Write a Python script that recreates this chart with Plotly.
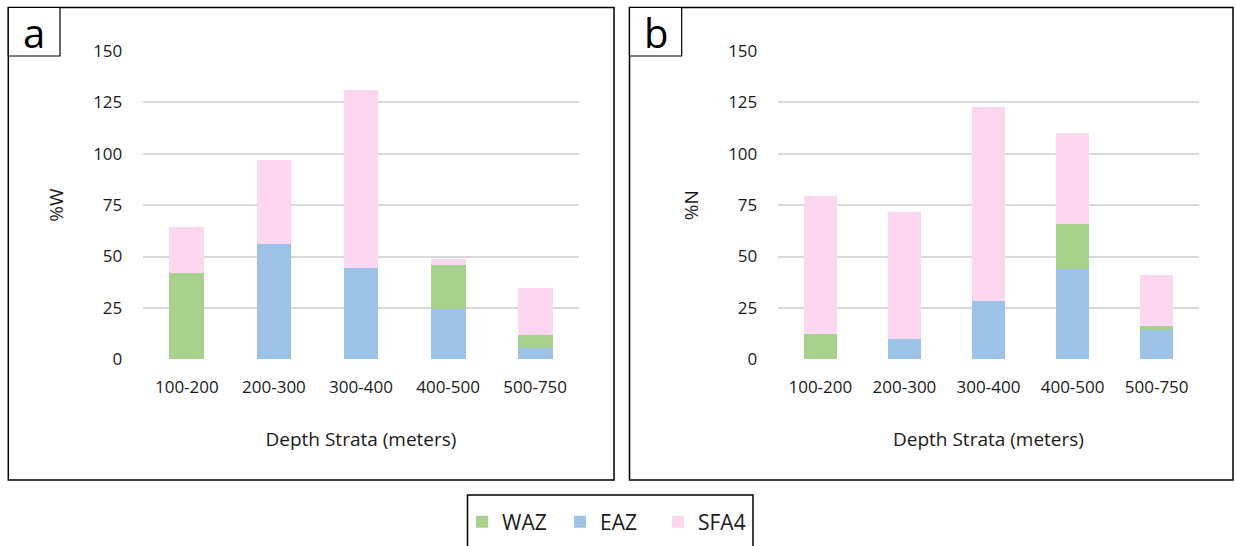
import plotly.graph_objects as go

W, H = 1236, 546

categories = ["100-200", "200-300", "300-400", "400-500", "500-750"]

# Panel a (%W)
w_waz = [42.2, 0, 0, 21.3, 6.2]
w_eaz = [0, 56.1, 44.5, 24.7, 5.7]
w_sfa4 = [22.0, 40.8, 86.5, 2.8, 23.0]

# Panel b (%N)
n_waz = [12.3, 0, 0, 22.1, 1.9]
n_eaz = [0, 9.8, 28.4, 43.8, 14.2]
n_sfa4 = [67.0, 61.8, 94.3, 44.3, 24.8]

series_names = ["WAZ", "EAZ", "SFA4"]
colors = {"WAZ": "#A9D18E", "EAZ": "#9DC3E6", "SFA4": "#FDD7EF"}
y_ticks = [0, 25, 50, 75, 100, 125, 150]

FONT = "Open Sans"


def px_x(p):
    return p / W


def px_y(p):
    return 1 - p / H


fig = go.Figure()

# stack order bottom->top: EAZ, WAZ, SFA4 ; legend order WAZ, EAZ, SFA4
panel_data = [
    ("x", "y", {"WAZ": w_waz, "EAZ": w_eaz, "SFA4": w_sfa4}, True),
    ("x2", "y2", {"WAZ": n_waz, "EAZ": n_eaz, "SFA4": n_sfa4}, False),
]
legend_rank = {"WAZ": 1, "EAZ": 2, "SFA4": 3}
for xa, ya, d, show in panel_data:
    for name in ["EAZ", "WAZ", "SFA4"]:
        fig.add_trace(go.Bar(
            x=categories, y=d[name], name=name, xaxis=xa, yaxis=ya,
            marker=dict(color=colors[name], line=dict(width=0)),
            showlegend=show, legendrank=legend_rank[name],
        ))

y_dom = [px_y(359.3), px_y(51)]
tickfont = dict(family=FONT, size=17, color="#1a1a1a")
titlefont = dict(family=FONT, size=19, color="#1a1a1a")


def xaxis_cfg(domain, anchor):
    return dict(domain=domain, anchor=anchor, showline=False, zeroline=False,
                ticks="", ticklabelstandoff=16, tickfont=tickfont, showgrid=False,
                title=dict(text="Depth Strata (meters)", font=titlefont, standoff=35))


def yaxis_cfg(anchor, title):
    return dict(domain=y_dom, anchor=anchor, range=[0, 150], tickvals=y_ticks,
                showline=False, zeroline=False, ticks="", tickfont=tickfont,
                showgrid=True, gridcolor="#D9D9D9", gridwidth=1.5,
                ticklabelstandoff=20,
                title=dict(text=title, font=titlefont, standoff=24))


fig.update_layout(
    width=W, height=H,
    margin=dict(l=0, r=0, t=0, b=0, autoexpand=False),
    paper_bgcolor="white", plot_bgcolor="white",
    barmode="stack", bargap=0.6,
    font=dict(family=FONT, color="#1a1a1a"),
    xaxis=xaxis_cfg([px_x(143.3), px_x(578.7)], "y"),
    yaxis=yaxis_cfg("x", "%W"),
    xaxis2=xaxis_cfg([px_x(778.3), px_x(1198.7)], "y2"),
    yaxis2=yaxis_cfg("x2", "%N"),
    legend=dict(orientation="h", x=px_x(462), xanchor="left", y=px_y(522), yanchor="middle",
                font=dict(family=FONT, size=21, color="#1a1a1a"), traceorder="normal",
                entrywidth=53, bgcolor="rgba(0,0,0,0)", borderwidth=0),
)

shapes = []
# panel frames
for x0, x1 in [(8.3, 614), (629.5, 1233)]:
    shapes.append(dict(type="rect", xref="paper", yref="paper",
                       x0=px_x(x0), x1=px_x(x1), y0=px_y(480), y1=px_y(7.5),
                       line=dict(color="black", width=1.5), fillcolor="rgba(0,0,0,0)"))
# label boxes
for x0, x1 in [(8.3, 60), (629.5, 681.7)]:
    shapes.append(dict(type="rect", xref="paper", yref="paper",
                       x0=px_x(x0), x1=px_x(x1), y0=px_y(56), y1=px_y(7.5),
                       line=dict(color="black", width=1.2), fillcolor="white"))
# legend box (extends below the canvas)
shapes.append(dict(type="rect", xref="paper", yref="paper",
                   x0=px_x(467.5), x1=px_x(753), y0=px_y(560), y1=px_y(495),
                   line=dict(color="black", width=1.5), fillcolor="rgba(0,0,0,0)"))
fig.update_layout(shapes=shapes)

for lbl, cx in [("a", 34), ("b", 656)]:
    fig.add_annotation(text=lbl, xref="paper", yref="paper", x=px_x(cx), y=px_y(32),
                       showarrow=False, xanchor="center", yanchor="middle",
                       font=dict(family=FONT, size=40, color="black"))

fig.write_html("out.html")
